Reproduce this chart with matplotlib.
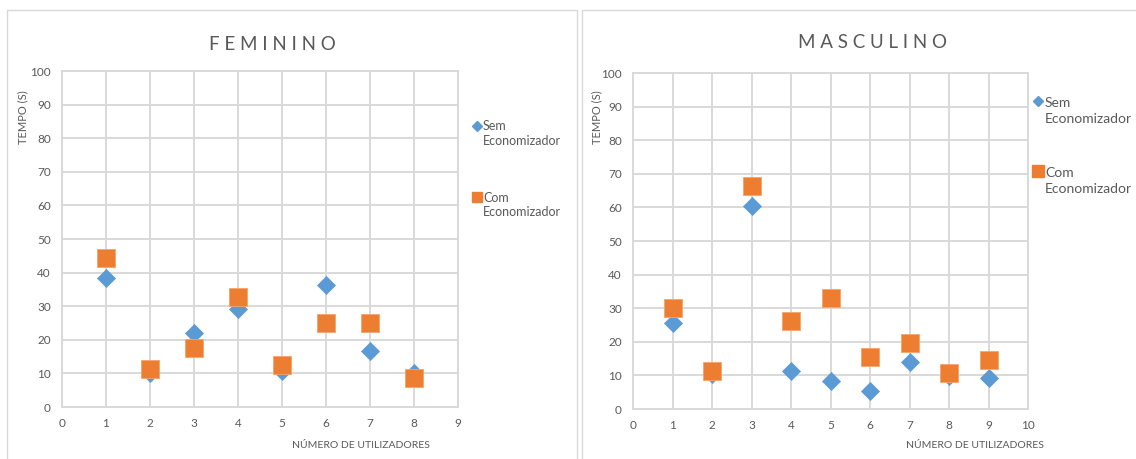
import matplotlib
matplotlib.use("Agg")
import matplotlib.pyplot as plt
from matplotlib.patches import Rectangle
from matplotlib.lines import Line2D

plt.rcParams['font.family'] = ['Lato', 'DejaVu Sans']

# Feminino
fem_users = [1, 2, 3, 4, 5, 6, 7, 8]
fem_sem = [38.3, 10.2, 22.0, 29.3, 10.8, 36.4, 16.7, 10.0]
fem_com = [44.3, 11.3, 17.6, 32.6, 12.4, 25.1, 25.1, 8.7]

# Masculino
mas_users = [1, 2, 3, 4, 5, 6, 7, 8, 9]
mas_sem = [25.7, 10.5, 60.4, 11.3, 8.3, 5.3, 13.9, 9.8, 9.1]
mas_com = [30.0, 11.3, 66.3, 26.2, 32.9, 15.5, 19.5, 10.8, 14.5]

titles = ["F E M I N I N O", "M A S C U L I N O"]
series_labels = ["Sem\nEconomizador", "Com\nEconomizador"]
xlabel = "NÚMERO DE UTILIZADORES"
ylabel = "TEMPO (S)"

BLUE = "#5B9BD5"
ORANGE = "#ED7D31"
GRID = "#D9D9D9"
TXT = "#595959"

W, H = 1136, 459
fig = plt.figure(figsize=(W / 100, H / 100), dpi=100)


def fx(px):
    return px / W


def fy(py):
    return 1 - py / H


# panel borders
for x0, x1 in [(7, 577), (582, 1140)]:
    fig.patches.append(Rectangle((fx(x0), fy(470)), fx(x1 - x0), fy(10) - fy(470),
                                 transform=fig.transFigure, fill=False,
                                 edgecolor=GRID, linewidth=1.0))

panels = [
    dict(box=(62, 458, 71, 407), xmax=9, users=fem_users, sem=fem_sem, com=fem_com,
         title=titles[0], tx=272, ty=44, ylx=23, yly=117, xlx=361, xly=446,
         leg=[(477, 126, 142), (477, 197, 213)], legx=483, legfs=9.0, legls=1.3,
         keysz=(4.8, 7.2)),
    dict(box=(633, 1028, 73, 409), xmax=10, users=mas_users, sem=mas_sem, com=mas_com,
         title=titles[1], tx=873, ty=43, ylx=597, yly=117, xlx=975, xly=446,
         leg=[(1038, 101, 121), (1038, 171, 191)], legx=1045, legfs=10.0, legls=1.4,
         keysz=(5.4, 8.0)),
]

for p in panels:
    l, r, t, b = p['box']
    ax = fig.add_axes([fx(l), fy(b), fx(r - l), fy(t) - fy(b)])
    ax.scatter(p['users'], p['sem'], marker='D', s=9.2 ** 2, color=BLUE,
               edgecolors=BLUE, linewidths=0.5, zorder=3, label=series_labels[0])
    ax.scatter(p['users'], p['com'], marker='s', s=13 ** 2, color=ORANGE,
               edgecolors="#F4A46E", linewidths=0.6, zorder=4, label=series_labels[1])
    ax.set_xlim(0, p['xmax'])
    ax.set_ylim(0, 100)
    ax.set_xticks(range(0, p['xmax'] + 1))
    ax.set_yticks(range(0, 101, 10))
    ax.grid(True, color=GRID, linewidth=1.4, zorder=0)
    ax.set_axisbelow(True)
    for s in ax.spines.values():
        s.set_color(GRID)
        s.set_linewidth(1.4)
    ax.tick_params(length=0, labelsize=8.5, labelcolor=TXT, pad=8)
    fig.text(fx(p['tx']), fy(p['ty']), p['title'], ha='center', va='center',
             fontsize=13.5, color=TXT)
    fig.text(fx(p['ylx']), fy(p['yly']), ylabel, rotation=90, ha='center',
             va='center', fontsize=8, color=TXT)
    fig.text(fx(p['xlx']), fy(p['xly']), xlabel, ha='center', va='center',
             fontsize=7.5, color=TXT)

    # legend: key marker beside the first line of each two-line label
    keys = [('D', p['keysz'][0], BLUE), ('s', p['keysz'][1], ORANGE)]
    for (mx, y1, y2), (mk, ms, col), lab in zip(p['leg'], keys, series_labels):
        fig.add_artist(Line2D([fx(mx)], [fy(y1)], marker=mk, markersize=ms,
                              color=col, linestyle='none',
                              transform=fig.transFigure))
        fig.text(fx(p['legx']), fy((y1 + y2) / 2), lab, ha='left', va='center',
                 fontsize=p['legfs'], color=TXT, linespacing=p['legls'])

fig.savefig("out.png", dpi=100)
